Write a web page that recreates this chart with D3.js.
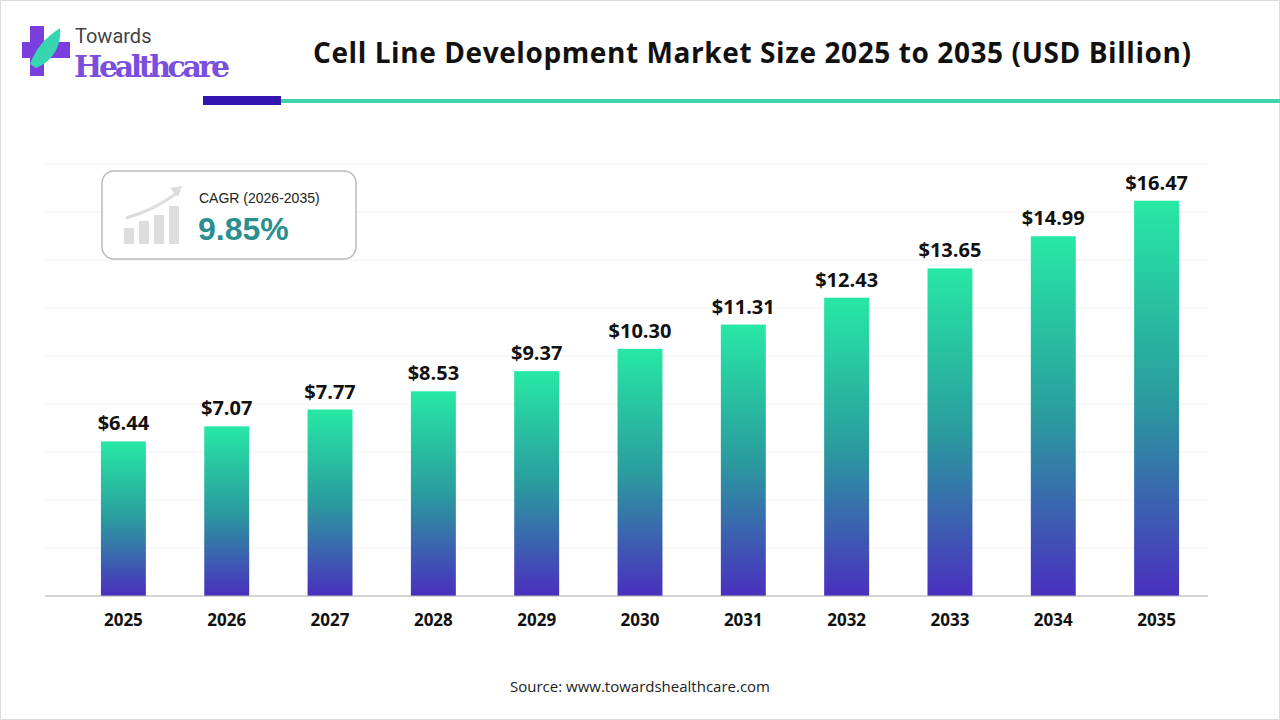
<!doctype html>
<html>
<head>
<meta charset="utf-8">
<script src="https://d3js.org/d3.v7.min.js"></script>
<style>
  body { margin: 0; background: #fff; }
  svg { display: block; font-family: "Open Sans", "Noto Sans", sans-serif; }
</style>
</head>
<body>
<svg width="1280" height="720"></svg>
<script>
var years = ["2025","2026","2027","2028","2029","2030","2031","2032","2033","2034","2035"];
var values = [6.44, 7.07, 7.77, 8.53, 9.37, 10.30, 11.31, 12.43, 13.65, 14.99, 16.47];
var gridTicks = [2, 4, 6, 8, 10, 12, 14, 16, 18];

var svg = d3.select("svg");

svg.append("rect").attr("x", 0.5).attr("y", 0.5).attr("width", 1279).attr("height", 719)
    .attr("fill", "none").attr("stroke", "#ddd");

var defs = svg.append("defs");
var grad = defs.append("linearGradient").attr("id", "barGrad")
    .attr("x1", 0).attr("y1", 0).attr("x2", 0).attr("y2", 1);
grad.append("stop").attr("offset", "0%").attr("stop-color", "#27e8a4");
grad.append("stop").attr("offset", "50%").attr("stop-color", "#2a9c9e");
grad.append("stop").attr("offset", "100%").attr("stop-color", "#4a2fbf");

// header
var logo = svg.append("g");
logo.append("rect").attr("x", 30).attr("y", 26).attr("width", 14).attr("height", 50).attr("fill", "#7b3fe0");
logo.append("rect").attr("x", 22).attr("y", 42).attr("width", 48).attr("height", 16).attr("fill", "#7b3fe0");
logo.append("path").attr("d", "M30 64 C40 40 52 34 60 28 C62 46 52 62 36 68 Z").attr("fill", "#36d6b0");
logo.append("text").attr("x", 75).attr("y", 43).attr("font-size", 20).attr("fill", "#444")
    .attr("font-family", "Roboto, sans-serif").text("Towards");
logo.append("text").attr("x", 74).attr("y", 77).attr("font-size", 30).attr("font-weight", "bold")
    .attr("fill", "#7a4fe0").attr("font-family", "'DejaVu Serif', serif").attr("textLength", 156).text("Healthcare");

svg.append("text").attr("x", 752).attr("y", 63).attr("text-anchor", "middle")
    .attr("font-size", 28).attr("font-weight", "bold").attr("fill", "#111").attr("textLength", 878)
    .text("Cell Line Development Market Size 2025 to 2035 (USD Billion)");
svg.append("rect").attr("x", 203).attr("y", 96).attr("width", 78).attr("height", 9).attr("fill", "#3216b0");
svg.append("rect").attr("x", 281).attr("y", 99).attr("width", 999).attr("height", 4).attr("fill", "#3ed3ad");

// chart
var x = d3.scaleBand().domain(years).range([72, 1208]).paddingInner(0.565).paddingOuter(0.28);
var y = d3.scaleLinear().domain([0, 18]).range([596, 164]);

svg.append("g").selectAll("line").data(gridTicks).enter().append("line")
    .attr("x1", 45).attr("x2", 1208).attr("y1", d => y(d)).attr("y2", d => y(d))
    .attr("stroke", "#f0f0f0");

svg.selectAll("rect.bar").data(values).enter().append("rect").attr("class", "bar")
    .attr("x", (d, i) => x(years[i])).attr("width", x.bandwidth())
    .attr("y", d => y(d)).attr("height", d => y(0) - y(d))
    .attr("fill", "url(#barGrad)");

svg.selectAll("text.val").data(values).enter().append("text").attr("class", "val")
    .attr("x", (d, i) => x(years[i]) + x.bandwidth() / 2).attr("y", d => y(d) - 11)
    .attr("text-anchor", "middle").attr("font-size", 20).attr("font-weight", "bold").attr("fill", "#111")
    .text(d => "$" + d.toFixed(2));

var xAxis = svg.append("g").attr("transform", "translate(0,596)")
    .call(d3.axisBottom(x).tickSize(0).tickPadding(18));
xAxis.select(".domain").attr("stroke", "#aaa").attr("d", "M45,0H1208");
xAxis.selectAll("text").attr("font-size", 17).attr("font-weight", "bold").attr("fill", "#111")
    .attr("font-family", "'Open Sans', sans-serif");

// CAGR box
var box = svg.append("g");
box.append("rect").attr("x", 102).attr("y", 171).attr("width", 254).attr("height", 88).attr("rx", 12)
    .attr("fill", "#fff").attr("stroke", "#bbb").attr("stroke-width", 1.5);
[[124, 228, 10, 16], [139, 221, 10, 23], [154, 215, 10, 29], [169, 206, 10, 38]].forEach(function (b) {
  box.append("rect").attr("x", b[0]).attr("y", b[1]).attr("width", b[2]).attr("height", b[3]).attr("fill", "#ddd");
});
box.append("path").attr("d", "M126 218 Q155 210 178 192").attr("fill", "none").attr("stroke", "#ddd").attr("stroke-width", 3);
box.append("path").attr("d", "M170 188 L182 186 L178 197 Z").attr("fill", "#ddd");
box.append("text").attr("x", 199).attr("y", 203).attr("font-size", 14).attr("fill", "#222")
    .attr("font-family", "'Liberation Sans', Arial, sans-serif").text("CAGR (2026-2035)");
box.append("text").attr("x", 198).attr("y", 240).attr("font-size", 32).attr("font-weight", "bold")
    .attr("fill", "#2c8f8f").attr("font-family", "'Liberation Sans', Arial, sans-serif").text("9.85%");

svg.append("text").attr("x", 640).attr("y", 692).attr("text-anchor", "middle")
    .attr("font-size", 15).attr("fill", "#222").text("Source: www.towardshealthcare.com");
</script>
</body>
</html>
